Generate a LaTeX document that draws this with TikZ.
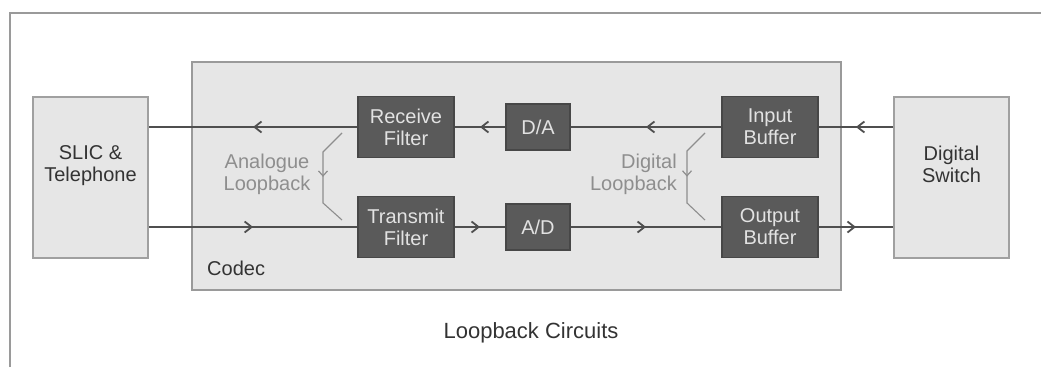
\documentclass[tikz,border=0pt]{standalone}
\usepackage{fontspec}
\setmainfont{Liberation Sans}
\usetikzlibrary{arrows.meta,decorations.markings}
\definecolor{framec}{HTML}{9A9A9A}
\definecolor{lightfill}{HTML}{E6E6E6}
\definecolor{lightedge}{HTML}{A0A0A0}
\definecolor{darkfill}{HTML}{5A5A5A}
\definecolor{darkedge}{HTML}{474747}
\definecolor{darktext}{HTML}{E2E2E2}
\definecolor{wirec}{HTML}{4F4F4F}
\definecolor{loopc}{HTML}{8E8E8E}
\definecolor{labelc}{HTML}{333333}
\tikzset{
  txt/.style={font=\fontsize{20}{22}\selectfont, align=center, inner sep=0pt},
  lightbox/.style={draw=lightedge, fill=lightfill, line width=1.8pt, inner sep=0pt},
  darkbox/.style={txt, draw=darkedge, fill=darkfill, line width=1.5pt, text=darktext},
  wire/.style={draw=wirec, line width=1.8pt, postaction={decorate},
    decoration={markings, mark=at position 0.5 with {\arrow[wirec]{Straight Barb[length=7pt,width=11pt,line width=1.8pt]}}}},
  loopline/.style={draw=loopc, line width=1.1pt, postaction={decorate},
    decoration={markings, mark=at position 0.5 with {\arrow[loopc]{Straight Barb[length=5pt,width=9pt,line width=1.2pt]}}}},
  looptext/.style={txt, text=loopc},
}
\begin{document}
\begin{tikzpicture}[x=1pt,y=-1pt]
\useasboundingbox (0,0) rectangle (1041,367);
\fill[white] (0,0) rectangle (1041,367);
% outer frame
\draw[framec, line width=1.5pt] (10,367) -- (10,13) -- (1041,13);
% codec
\node[draw=framec, fill=lightfill, line width=1.5pt, minimum width=649pt, minimum height=228pt, inner sep=0pt] (codec) at (516.5,176) {};
\node[txt, text=labelc, anchor=west] (codeclbl) at (207,268) {Codec};
% outer boxes
\node[lightbox, minimum width=115pt, minimum height=161pt] (slic) at (90.5,177.5) {};
\node[txt, text=labelc] (slictxt) at ([yshift=12pt]slic.center) {SLIC \&\\Telephone};
\node[lightbox, minimum width=115pt, minimum height=161pt] (dsw) at (951.5,177.5) {};
\node[txt, text=labelc] (dswtxt) at ([yshift=13pt]dsw.center) {Digital\\Switch};
% dark boxes
\node[darkbox, minimum width=96pt, minimum height=61pt] (rf) at (406,127) {Receive\\Filter};
\node[darkbox, minimum width=96pt, minimum height=61pt] (tf) at (406,227) {Transmit\\Filter};
\node[darkbox, minimum width=64pt, minimum height=46pt] (da) at (538,127) {D/A};
\node[darkbox, minimum width=64pt, minimum height=46pt] (ad) at (538,227) {A/D};
\node[darkbox, minimum width=96pt, minimum height=61pt] (ib) at (770,127) {Input\\Buffer};
\node[darkbox, minimum width=96pt, minimum height=61pt] (ob) at (770,227) {Output\\Buffer};
% wires
\draw[wire] (dsw.west |- ib.east) -- (ib.east);
\draw[wire] (ib.west) -- (da.east);
\draw[wire] (da.west) -- (rf.east);
\draw[wire] (rf.west) -- (slic.east |- rf.west);
\draw[wire] (slic.east |- tf.west) -- (tf.west);
\draw[wire] (tf.east) -- (ad.west);
\draw[wire] (ad.east) -- (ob.west);
\draw[wire] (ob.east) -- (dsw.west |- ob.east);
% loopbacks
\draw[loopline] (342,133) -- (323,152) -- (323,203) -- (342,220);
\node[looptext] (alb) at (267,174) {Analogue\\Loopback};
\draw[loopline] (705,133) -- (687,151) -- (687,203) -- (705,220);
\node[looptext, align=right, anchor=east] (dlb) at (677,174) {Digital\\Loopback};
% title
\node[txt, text=labelc, font=\fontsize{22}{24}\selectfont] (title) at (531,333) {Loopback Circuits};
\end{tikzpicture}
\end{document}
